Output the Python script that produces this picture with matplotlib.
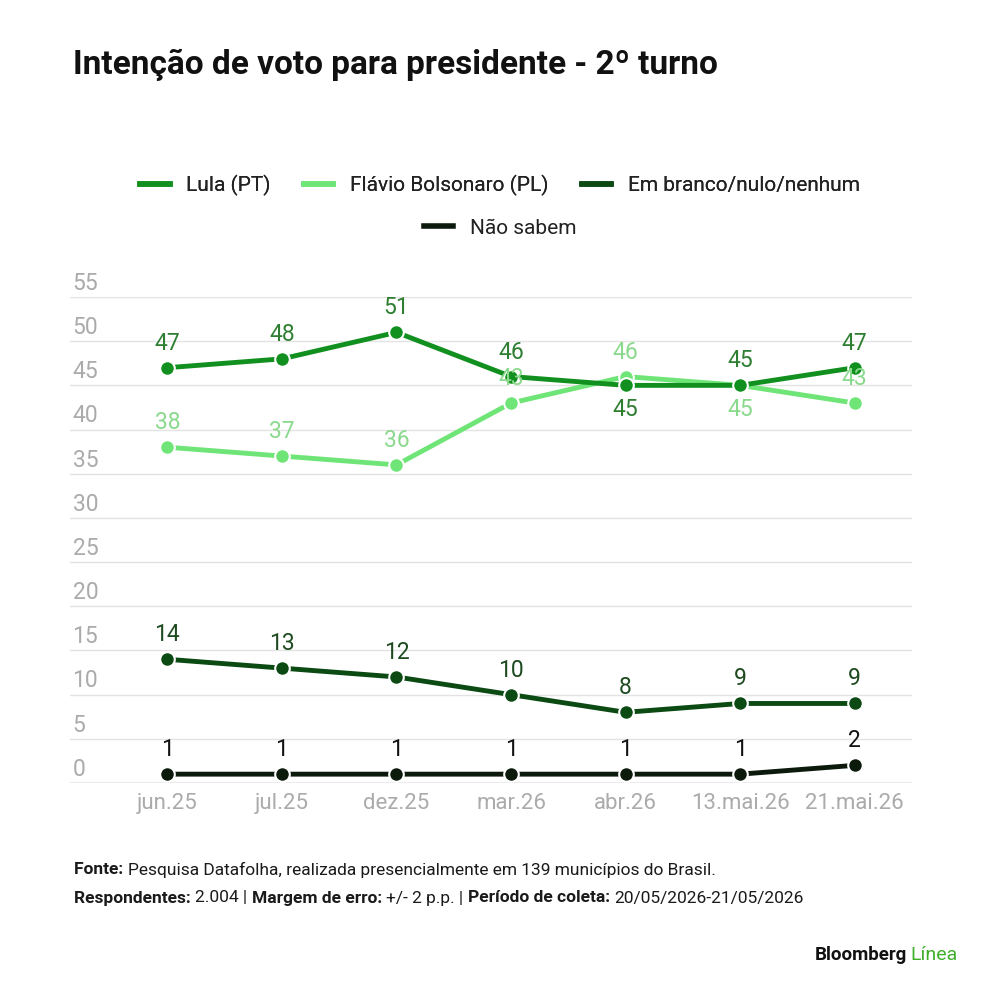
import matplotlib
matplotlib.use("Agg")
import matplotlib.pyplot as plt
from matplotlib import font_manager as fm
from matplotlib.lines import Line2D
import numpy as np

names = set(f.name for f in fm.fontManager.ttflist)
cond = 'Liberation Sans Narrow' if 'Liberation Sans Narrow' in names else 'Roboto'
plt.rcParams['font.family'] = [cond, 'DejaVu Sans']

# data
months = ["jun.25", "jul.25", "dez.25", "mar.26", "abr.26", "13.mai.26", "21.mai.26"]
lula = [47, 48, 51, 46, 45, 45, 47]
flavio = [38, 37, 36, 43, 46, 45, 43]
branco = [14, 13, 12, 10, 8, 9, 9]
naosabem = [1, 1, 1, 1, 1, 1, 2]
series_names = ["Lula (PT)", "Flávio Bolsonaro (PL)", "Em branco/nulo/nenhum", "Não sabem"]
yticks = [0, 5, 10, 15, 20, 25, 30, 35, 40, 45, 50, 55]

line_cols = ["#11901f", "#6ee576", "#0b4a12", "#0c1a0c"]
lab_cols = ["#2f7f33", "#8ad98d", "#1d4a1f", "#111111"]
# label placement: +1 above, -1 below
lula_pos = [1, 1, 1, 1, -1, 1, 1]
flavio_pos = [1, 1, 1, 1, 1, -1, 1]

fig = plt.figure(figsize=(10, 10), dpi=100)
ax = fig.add_axes([0.07, 0.217, 0.842, 0.486])
x = np.arange(len(months))
ax.set_xlim(-0.85, 6.5)
ax.set_ylim(0, 55)

for yv in yticks:
    ax.axhline(yv, color="#e3e3e3" if yv else "#9a9a9a", lw=1, zorder=0)
    ax.text(0.003, yv + 0.25, str(yv), transform=ax.get_yaxis_transform(),
            fontsize=16.5, color="#ababab", va="bottom", ha="left")

allvals = [lula, flavio, branco, naosabem]
positions = [lula_pos, flavio_pos, [1] * 7, [1] * 7]
for k, vals in enumerate(allvals):
    ax.plot(x, vals, color=line_cols[k], lw=3.5, marker="o", ms=10.5,
            markeredgecolor="white", markeredgewidth=1.5, zorder=3 + (k == 0))
for k, vals in enumerate(allvals):
    for i, v in enumerate(vals):
        p = positions[k][i]
        ax.annotate(str(v), (x[i], v), xytext=(0, 13 * p), textcoords="offset pixels",
                    ha="center", va="bottom" if p > 0 else "top",
                    fontsize=16.5, color=lab_cols[k], zorder=6)

ax.set_xticks(x)
ax.set_xticklabels(months, fontsize=16, color="#ababab")
ax.tick_params(axis="x", length=0, pad=7)
ax.set_yticks([])
for s in ax.spines.values():
    s.set_visible(False)

# title
fig.text(0.073, 0.935, "Intenção de voto para presidente - 2º turno", fontsize=24,
         fontweight="bold", color="#111111", va="center", ha="left")

# legend
h = [Line2D([0], [0], color=c, lw=4) for c in line_cols]
leg1 = fig.legend(h[:3], series_names[:3], loc="center", bbox_to_anchor=(0.5, 0.815), ncol=3,
                  frameon=False, fontsize=15, handlelength=1.4, columnspacing=1.6,
                  handletextpad=0.8, labelcolor="#222222")
fig.add_artist(leg1)
fig.legend(h[3:], series_names[3:], loc="center", bbox_to_anchor=(0.5, 0.772), ncol=1,
           frameon=False, fontsize=15, handlelength=1.4, handletextpad=0.8, labelcolor="#222222")

# footer with mixed weights
renderer = fig.canvas.get_renderer()
def rich(parts, x0, y0, size):
    xx = x0
    for txt, bold in parts:
        t = fig.text(xx, y0, txt, fontsize=size, fontweight="bold" if bold else "normal",
                     color="#1a1a1a", va="center", ha="left")
        bb = t.get_window_extent(renderer)
        xx += bb.width / fig.bbox.width

rich([("Fonte: ", True), ("Pesquisa Datafolha, realizada presencialmente em 139 municípios do Brasil.", False)],
     0.074, 0.130, 12.5)
rich([("Respondentes: ", True), ("2.004 | ", False), ("Margem de erro: ", True),
      ("+/- 2 p.p. | ", False), ("Período de coleta: ", True), ("20/05/2026-21/05/2026", False)],
     0.074, 0.102, 12.5)

t = fig.text(0.958, 0.045, "Línea", fontsize=14, color="#3fae2a", ha="right", va="center")
bb = t.get_window_extent(renderer)
fig.text(0.958 - bb.width / 1000 - 0.004, 0.045, "Bloomberg", fontsize=13.5, fontweight="bold",
         color="#111111", ha="right", va="center")

fig.savefig("out.png", dpi=100, facecolor="white")
